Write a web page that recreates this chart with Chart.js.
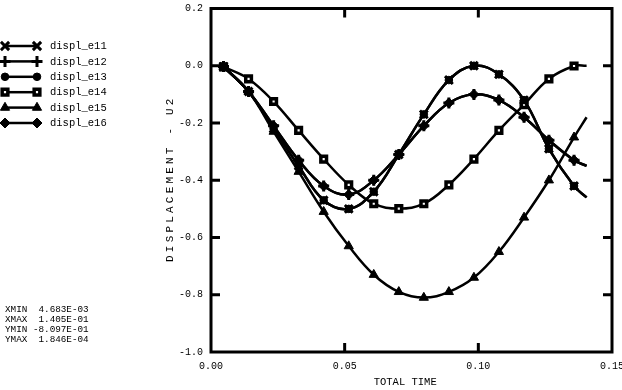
<!DOCTYPE html>
<html><head><meta charset="utf-8">
<script src="https://cdn.jsdelivr.net/npm/chart.js@4/dist/chart.umd.min.js"></script>
<style>html,body{margin:0;padding:0;background:#fff}</style>
</head><body>
<canvas id="c" width="622" height="390" style="width:622px;height:390px;display:block"></canvas>
<script>
// ---- data ----
const times = [0.004683, 0.01405, 0.02342, 0.03278, 0.04215, 0.05152, 0.06088, 0.07025, 0.07961, 0.08898, 0.09835, 0.1077, 0.1171, 0.1264, 0.1358, 0.1405];
const seriesNames = ['displ_e11', 'displ_e12', 'displ_e13', 'displ_e14', 'displ_e15', 'displ_e16'];
const e11 = [-0.003, -0.09, -0.22, -0.35, -0.47, -0.50, -0.44, -0.31, -0.17, -0.05, 0.000, -0.03, -0.12, -0.29, -0.42, -0.46];
const e12 = [-0.003, -0.09, -0.21, -0.33, -0.42, -0.45, -0.40, -0.31, -0.21, -0.13, -0.10, -0.12, -0.18, -0.26, -0.33, -0.35];
const e13 = [-0.003, -0.09, -0.22, -0.35, -0.47, -0.50, -0.44, -0.31, -0.17, -0.05, 0.000, -0.03, -0.12, -0.29, -0.42, -0.46];
const e14 = [-0.004, -0.046, -0.125, -0.226, -0.326, -0.416, -0.482, -0.499, -0.482, -0.416, -0.326, -0.226, -0.136, -0.046, -0.001, 0.0002];
const e15 = [-0.003, -0.09, -0.23, -0.37, -0.51, -0.63, -0.73, -0.79, -0.81, -0.79, -0.74, -0.65, -0.53, -0.40, -0.25, -0.18];
const e16 = [-0.003, -0.09, -0.21, -0.33, -0.42, -0.45, -0.40, -0.31, -0.21, -0.13, -0.10, -0.12, -0.18, -0.26, -0.33, -0.35];
const yTicks = [0.2, 0.0, -0.2, -0.4, -0.6, -0.8, -1.0];
const xTicks = [0.00, 0.05, 0.10, 0.15];
const xTitle = 'TOTAL TIME';
const yTitle = 'DISPLACEMENT - U2';
const statsLines = ['XMIN  4.683E-03', 'XMAX  1.405E-01', 'YMIN -8.097E-01', 'YMAX  1.846E-04'];

// ---- styling ----
const allSeries = [e11, e12, e13, e14, e15, e16];
const styles = [
  {ps: 'crossRot', r: 5.5, bw: 3, bg: '#000'},
  {ps: 'cross', r: 5.5, bw: 3, bg: '#000'},
  {ps: 'circle', r: 3.8, bw: 1, bg: '#000'},
  {ps: 'rect', r: 4, bw: 3.5, bg: '#fff'},
  {ps: 'triangle', r: 5.3, bw: 1, bg: '#000'},
  {ps: 'rectRot', r: 5, bw: 1, bg: '#000'}
];
const MONO = '"Liberation Mono", "DejaVu Sans Mono", monospace';

const datasets = allSeries.map((vals, s) => ({
  label: seriesNames[s],
  data: times.map((t, i) => ({x: t, y: vals[i]})),
  showLine: true,
  borderColor: '#000',
  borderWidth: 2.5,
  tension: 0.4,
  pointStyle: styles[s].ps,
  pointRadius: times.map((t, i) => i === times.length - 1 ? 0 : styles[s].r),
  pointHoverRadius: 0,
  pointBackgroundColor: styles[s].bg,
  pointBorderColor: '#000',
  pointBorderWidth: styles[s].bw
}));

const framePlugin = {
  id: 'frame',
  afterDraw(chart) {
    const {ctx, chartArea: a, scales} = chart;
    ctx.save();
    ctx.strokeStyle = '#000';
    ctx.lineWidth = 3;
    ctx.lineCap = 'butt';
    ctx.strokeRect(a.left, a.top, a.right - a.left, a.bottom - a.top);
    const tl = 9;
    ctx.beginPath();
    yTicks.slice(1, -1).forEach(v => {
      const y = scales.y.getPixelForValue(v);
      ctx.moveTo(a.left, y); ctx.lineTo(a.left + tl, y);
      ctx.moveTo(a.right, y); ctx.lineTo(a.right - tl, y);
    });
    xTicks.slice(1, -1).forEach(v => {
      const x = scales.x.getPixelForValue(v);
      ctx.moveTo(x, a.bottom); ctx.lineTo(x, a.bottom - tl);
      ctx.moveTo(x, a.top); ctx.lineTo(x, a.top + tl);
    });
    ctx.stroke();

    // y-axis title (vertical)
    ctx.save();
    ctx.font = '11px ' + MONO;
    ctx.fillStyle = '#000';
    ctx.textAlign = 'center';
    ctx.textBaseline = 'middle';
    try { ctx.letterSpacing = '3.2px'; } catch (e) {}
    ctx.translate(170, (a.top + a.bottom) / 2);
    ctx.rotate(-Math.PI / 2);
    ctx.fillText(yTitle, 1.6, 0);
    ctx.restore();

    // legend
    ctx.font = '10.5px ' + MONO;
    ctx.fillStyle = '#000';
    ctx.textBaseline = 'middle';
    ctx.textAlign = 'left';
    seriesNames.forEach((name, i) => {
      const y = 46 + i * 15.4;
      ctx.lineWidth = 2.5;
      ctx.beginPath(); ctx.moveTo(5, y); ctx.lineTo(37, y); ctx.stroke();
      [5, 37].forEach(x => drawMarker(ctx, styles[i], x, y));
      ctx.fillStyle = '#000';
      ctx.fillText(name, 50, y + 0.5);
    });

    // stats
    ctx.font = '9.3px ' + MONO;
    statsLines.forEach((t, i) => ctx.fillText(t, 5, 310 + i * 9.7));
    ctx.restore();
  }
};

function drawMarker(ctx, st, x, y) {
  const r = st.r;
  ctx.save();
  ctx.fillStyle = st.bg;
  ctx.strokeStyle = '#000';
  ctx.lineWidth = st.bw;
  ctx.beginPath();
  if (st.ps === 'circle') {
    ctx.arc(x, y, r, 0, Math.PI * 2); ctx.fill(); ctx.stroke();
  } else if (st.ps === 'rect') {
    const s = r * Math.SQRT1_2;
    ctx.rect(x - s, y - s, 2 * s, 2 * s); ctx.fill(); ctx.stroke();
  } else if (st.ps === 'rectRot') {
    ctx.moveTo(x, y - r); ctx.lineTo(x + r, y); ctx.lineTo(x, y + r); ctx.lineTo(x - r, y); ctx.closePath();
    ctx.fill(); ctx.stroke();
  } else if (st.ps === 'triangle') {
    const h = r * 0.866;
    ctx.moveTo(x, y - r); ctx.lineTo(x + h, y + r / 2); ctx.lineTo(x - h, y + r / 2); ctx.closePath();
    ctx.fill(); ctx.stroke();
  } else if (st.ps === 'cross') {
    ctx.moveTo(x - r, y); ctx.lineTo(x + r, y); ctx.moveTo(x, y - r); ctx.lineTo(x, y + r); ctx.stroke();
  } else if (st.ps === 'crossRot') {
    const s = r * 0.75;
    ctx.moveTo(x - s, y - s); ctx.lineTo(x + s, y + s); ctx.moveTo(x + s, y - s); ctx.lineTo(x - s, y + s); ctx.stroke();
  }
  ctx.restore();
}

new Chart(document.getElementById('c'), {
  type: 'scatter',
  data: {datasets},
  options: {
    responsive: false,
    animation: false,
    devicePixelRatio: 1,
    layout: {padding: {left: 0, top: 5, right: 10, bottom: 0}},
    plugins: {legend: {display: false}, tooltip: {enabled: false}},
    events: [],
    scales: {
      x: {
        type: 'linear', min: 0, max: 0.15,
        afterBuildTicks: s => { s.ticks = xTicks.map(v => ({value: v})); },
        afterFit: s => { s.height = 38; s.paddingLeft = 0; s.paddingRight = 0; },
        grid: {display: false, drawTicks: false},
        border: {display: false},
        ticks: {color: '#000', font: {family: MONO, size: 10}, padding: 8, maxRotation: 0,
                callback: v => Number(v).toFixed(2)},
        title: {display: true, text: xTitle + '  ', color: '#000', font: {family: MONO, size: 10.5}, padding: {top: 0, bottom: 1}}
      },
      y: {
        type: 'linear', min: -1.0, max: 0.2,
        afterBuildTicks: s => { s.ticks = yTicks.map(v => ({value: v})); },
        afterFit: s => { s.width = 211; s.paddingTop = 0; s.paddingBottom = 0; },
        grid: {display: false, drawTicks: false},
        border: {display: false},
        ticks: {color: '#000', font: {family: MONO, size: 10}, padding: 8,
                callback: v => (Math.abs(v) < 1e-9 ? 0 : Number(v)).toFixed(1)},
        title: {display: false}
      }
    }
  },
  plugins: [framePlugin]
});
</script>
</body></html>
